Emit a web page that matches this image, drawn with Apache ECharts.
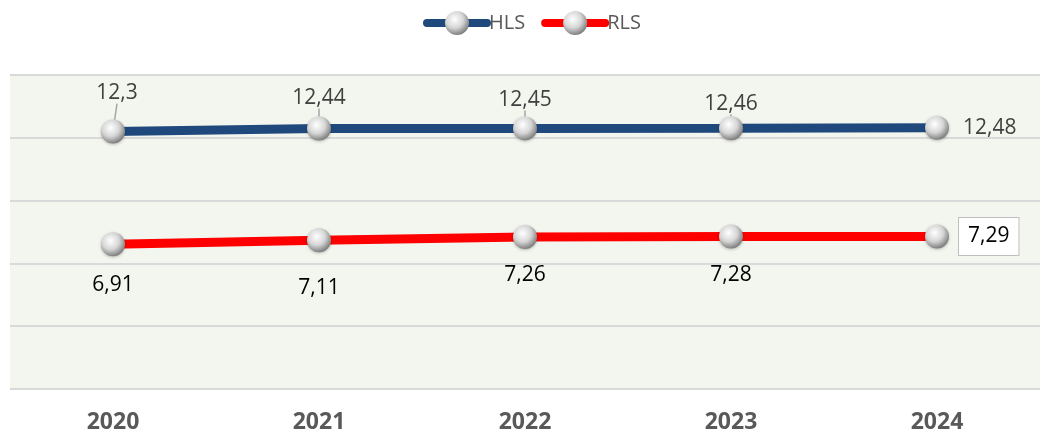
<!DOCTYPE html>
<html>
<head>
<meta charset="utf-8">
<script src="https://cdn.jsdelivr.net/npm/echarts@6/dist/echarts.min.js"></script>
<style>
html, body { margin: 0; padding: 0; background: #fff; }
#chart { width: 1040px; height: 434px; }
</style>
</head>
<body>
<div id="chart"></div>
<script>
const years = ['2020', '2021', '2022', '2023', '2024']
const hls = [12.3, 12.44, 12.45, 12.46, 12.48]
const rls = [6.91, 7.11, 7.26, 7.28, 7.29]

const font = '"Open Sans", sans-serif'

// glossy grey ball used for markers
const ball = {
    type: 'radial', x: 0.4, y: 0.35, r: 0.65,
    colorStops: [
        {offset: 0, color: '#ffffff'},
        {offset: 0.55, color: '#d6d6d6'},
        {offset: 1, color: '#808080'}
    ]
}

const fmt = p => String(p.value).replace('.', ',')

// label nudges, by data index
const hlsShift = [[4, -11], [0, -3], [0, -1], [0, 3], [0, 0]]
const rlsShift = [[0, 13], [0, 20], [0, 10], [0, 11], [0, 0]]

const option = {
    animation: false,
    legend: {
        top: 6,
        left: 418,
        itemWidth: 60,
        itemHeight: 30,
        itemGap: 16,
        lineStyle: {width: 8, cap: 'round'},
        textStyle: {fontFamily: font, fontSize: 20, color: '#595959', padding: [0, 0, 0, -3]},
        data: ['HLS', 'RLS']
    },
    grid: {
        left: 10, right: 0, top: 75, bottom: 44,
        show: true, backgroundColor: '#f3f6ee', borderWidth: 0
    },
    xAxis: {
        type: 'category',
        data: years,
        axisLine: {show: false},
        axisTick: {show: false},
        axisLabel: {
            margin: 22, fontFamily: font, fontSize: 23,
            fontWeight: 'bold', color: '#595959'
        }
    },
    yAxis: {
        type: 'value',
        min: 0, max: 15, interval: 3,
        axisLabel: {show: false},
        axisLine: {show: false},
        axisTick: {show: false},
        splitLine: {lineStyle: {color: '#d9d9d9', width: 2}}
    },
    series: [
        {
            name: 'HLS',
            type: 'line',
            data: hls.map((v, i) => i === 4 ? {
                value: v,
                label: {position: 'right', distance: 14},
                labelLine: {show: false}
            } : v),
            symbol: 'circle',
            symbolSize: 24,
            lineStyle: {color: '#1f497d', width: 9},
            itemStyle: {color: ball, shadowColor: 'rgba(0,0,0,0.25)', shadowBlur: 3, shadowOffsetY: 1},
            label: {
                show: true, position: 'top', distance: 5, formatter: fmt,
                fontFamily: font, fontSize: 21, color: '#404040'
            },
            labelLine: {show: true, lineStyle: {color: '#a6a6a6', width: 1.5}},
            labelLayout: p => ({dx: hlsShift[p.dataIndex][0], dy: hlsShift[p.dataIndex][1]}),
            z: 3
        },
        {
            name: 'RLS',
            type: 'line',
            data: rls.map((v, i) => i === 4 ? {
                value: v,
                label: {
                    position: 'right', distance: 10,
                    backgroundColor: '#fff', borderColor: '#bfbfbf', borderWidth: 1,
                    padding: [9, 9, 7, 9]
                }
            } : v),
            symbol: 'circle',
            symbolSize: 24,
            lineStyle: {color: '#ff0000', width: 9},
            itemStyle: {color: ball, shadowColor: 'rgba(0,0,0,0.25)', shadowBlur: 3, shadowOffsetY: 1},
            label: {
                show: true, position: 'bottom', distance: 5, formatter: fmt,
                fontFamily: font, fontSize: 21, color: '#000'
            },
            labelLayout: p => ({dx: rlsShift[p.dataIndex][0], dy: rlsShift[p.dataIndex][1]}),
            z: 3
        }
    ]
}

const myChart = echarts.init(document.getElementById('chart'))
myChart.setOption(option)
</script>
</body>
</html>
